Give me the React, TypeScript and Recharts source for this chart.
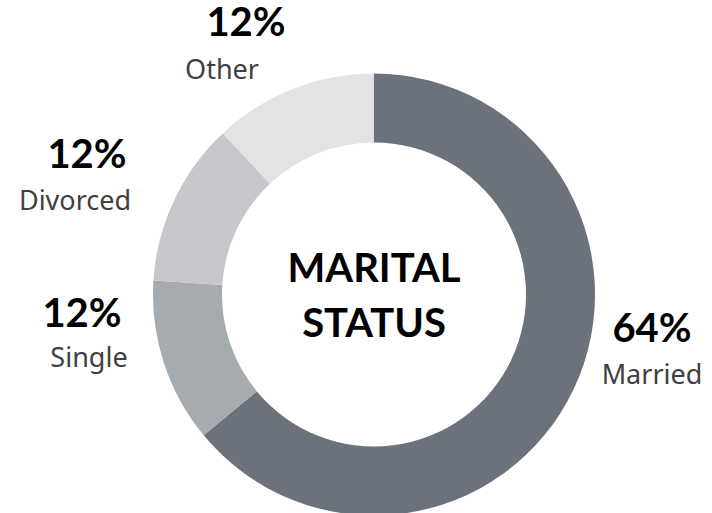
import React from "react";
import { PieChart, Pie, Cell } from "recharts";

// Marital status breakdown (percent)
const categories = ["Married", "Single", "Divorced", "Other"];
const shares = [64, 12, 12, 12];
const sliceColors = ["#6b727b", "#a6abb0", "#c5c7ca", "#e2e3e5"];

const chartData = categories.map((name, i) => ({ name, value: shares[i] }));

const CX = 374;
const CY = 294.5;

// label placement relative to the pie centre: [pctX, pctBaseline, nameX, nameBaseline]
const labelOffsets: Record<string, [number, number, number, number]> = {
  Married: [278, 47.5, 278, 89.5],
  Single: [-292, 32.5, -285, 72.5],
  Divorced: [-287, -126.5, -299, -84.5],
  Other: [-128, -258.5, -152, -215.5],
};

const renderLabel = (props: any) => {
  const { cx, cy, name, value } = props;
  const off = labelOffsets[name];
  if (!off) return null;
  return (
    <g>
      <text
        x={cx + off[0]}
        y={cy + off[1]}
        textAnchor="middle"
        fontFamily="Lato, 'Open Sans', sans-serif"
        fontWeight={700}
        fontSize={40}
        fill="#000"
      >
        {`${value}%`}
      </text>
      <text
        x={cx + off[2]}
        y={cy + off[3]}
        textAnchor="middle"
        fontFamily="'Noto Sans', 'Open Sans', sans-serif"
        fontSize={27}
        fill="#404040"
      >
        {name}
      </text>
    </g>
  );
};

const App: React.FC = () => {
  return (
    <div style={{ position: "absolute", left: 0, top: 0, width: 712, height: 513, background: "#fff" }}>
      <PieChart width={712} height={513} margin={{ top: 0, right: 0, bottom: 0, left: 0 }}>
        <Pie
          data={chartData}
          dataKey="value"
          nameKey="name"
          cx={CX}
          cy={CY}
          innerRadius={152}
          outerRadius={221}
          startAngle={90}
          endAngle={-270}
          stroke="none"
          label={renderLabel}
          labelLine={false}
          isAnimationActive={false}
        >
          {chartData.map((entry, i) => (
            <Cell key={entry.name} fill={sliceColors[i]} />
          ))}
        </Pie>
        <text
          x={CX}
          y={282}
          textAnchor="middle"
          fontFamily="Lato, 'Open Sans', sans-serif"
          fontWeight={700}
          fontSize={40}
          fill="#000"
        >
          MARITAL
        </text>
        <text
          x={CX}
          y={337}
          textAnchor="middle"
          fontFamily="Lato, 'Open Sans', sans-serif"
          fontWeight={700}
          fontSize={40}
          fill="#000"
        >
          STATUS
        </text>
      </PieChart>
    </div>
  );
};

export default App;
